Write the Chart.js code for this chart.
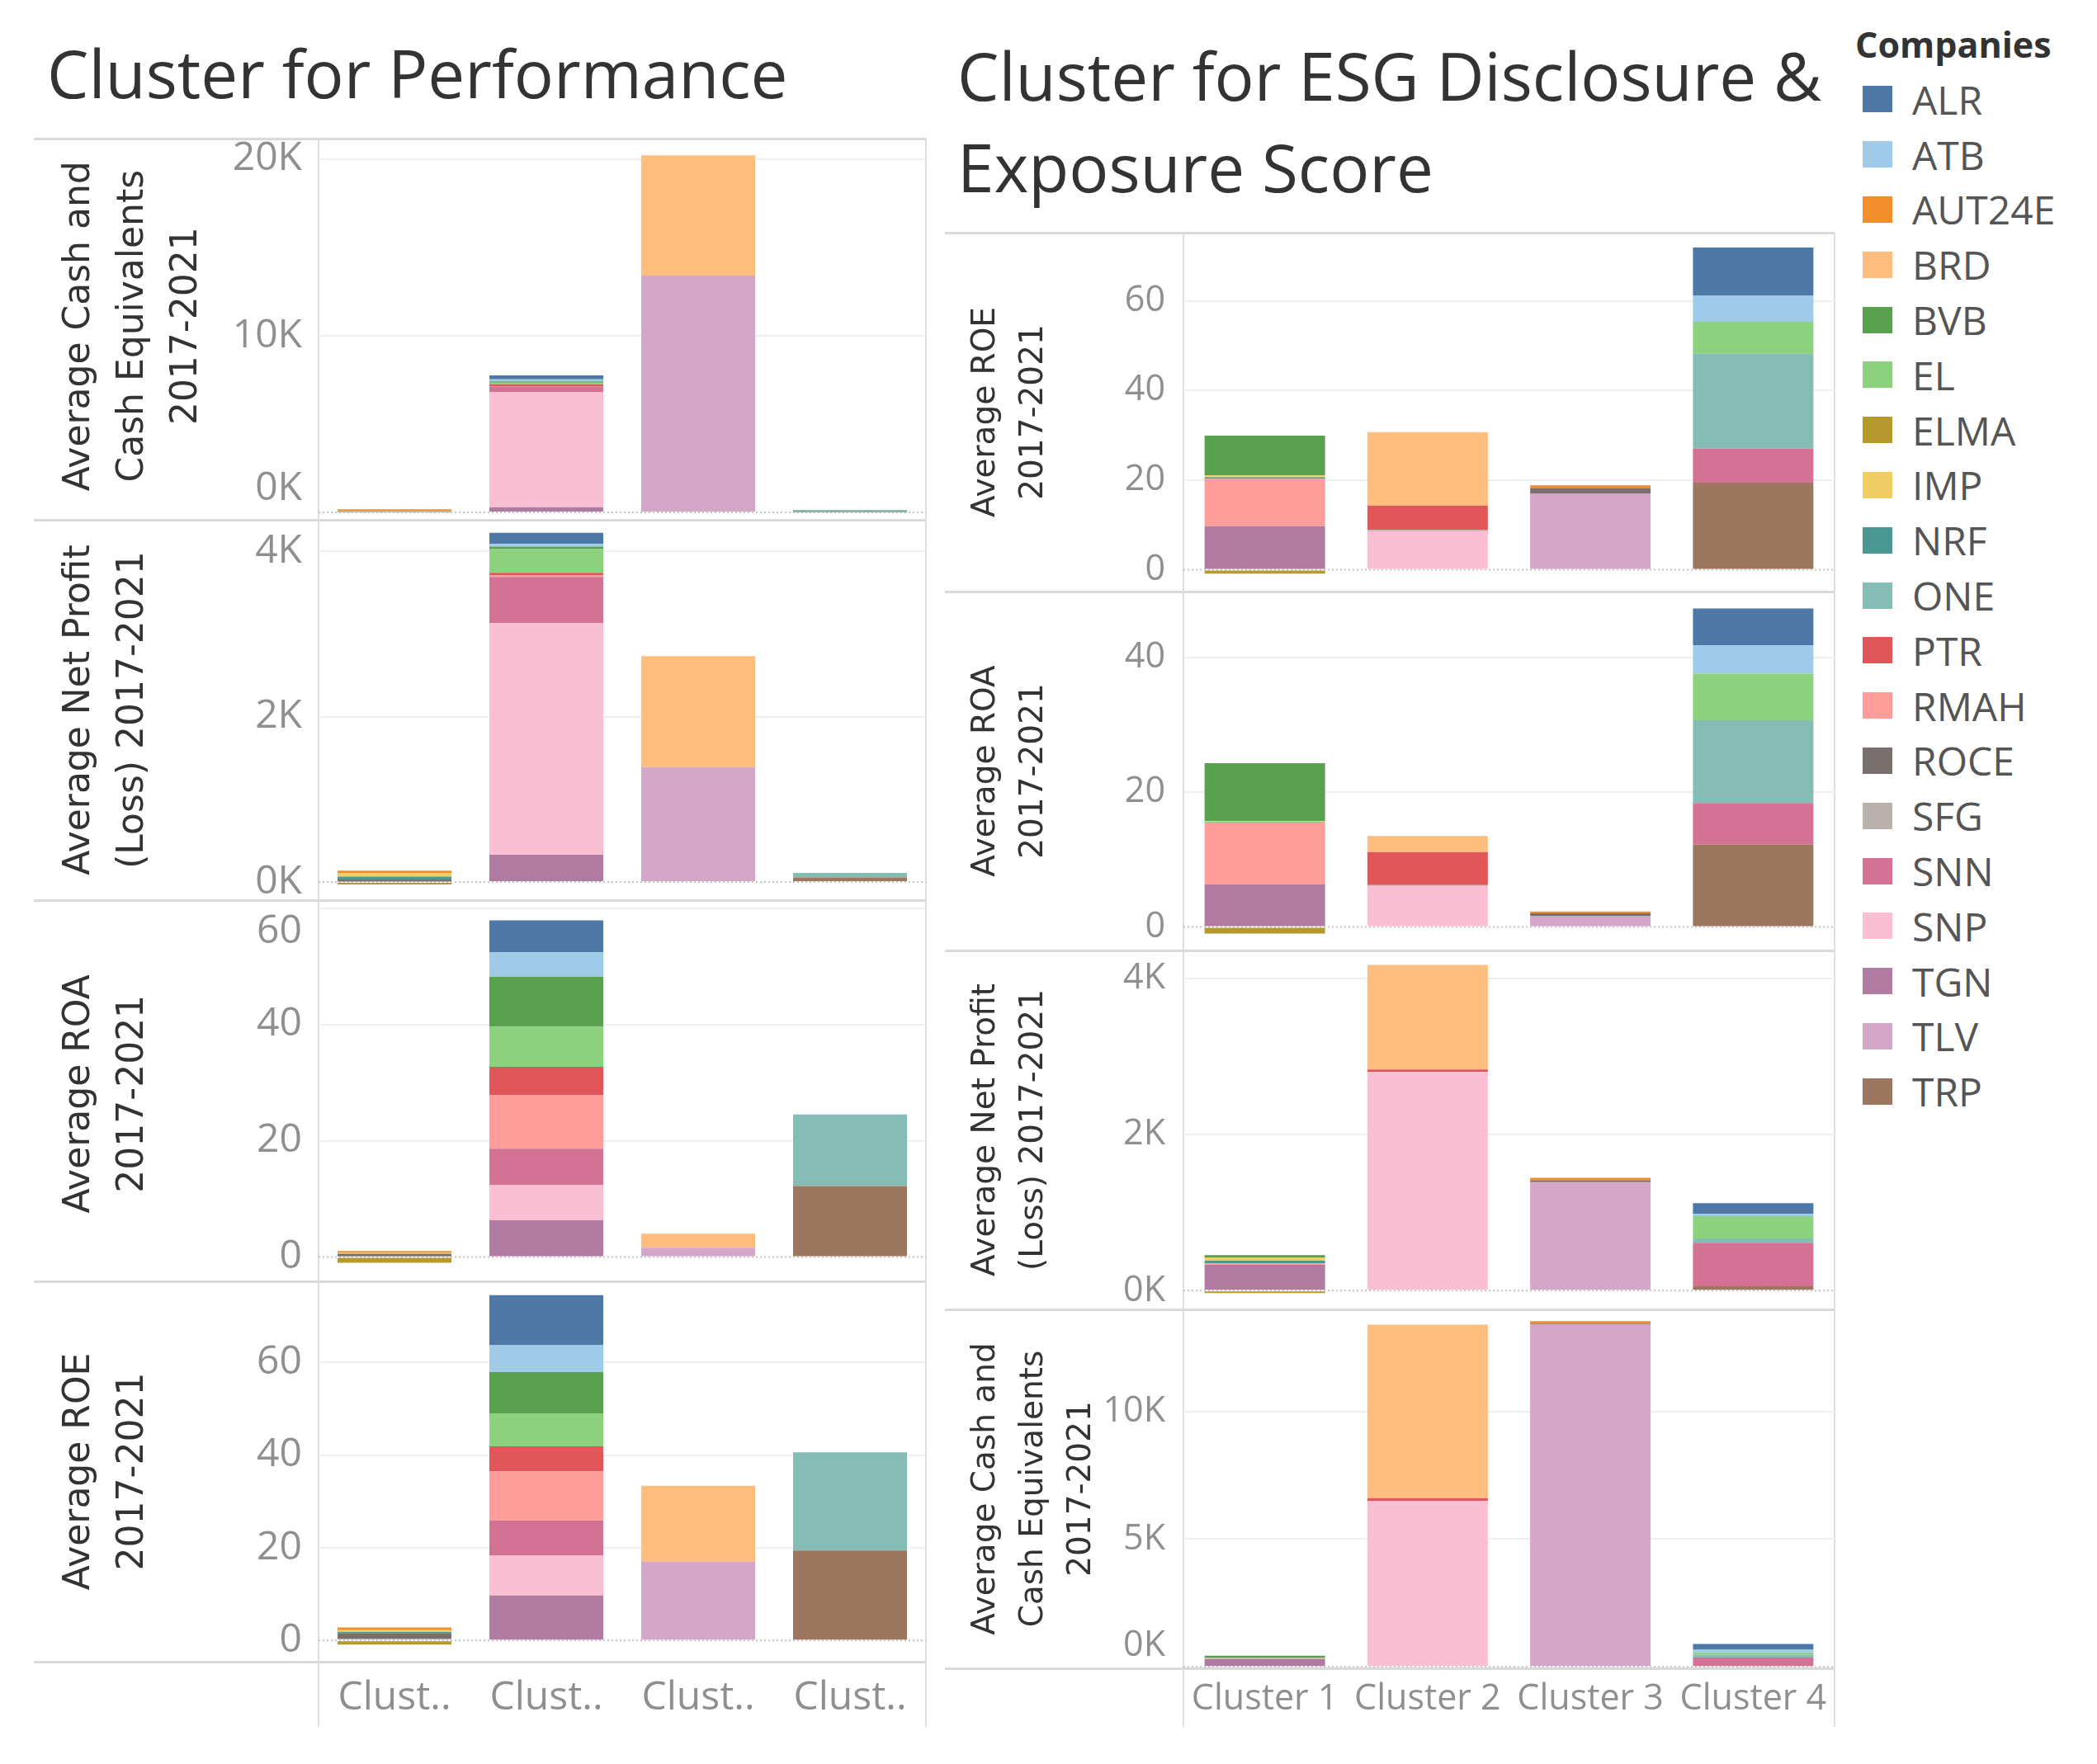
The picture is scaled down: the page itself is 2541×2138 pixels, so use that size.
<!DOCTYPE html>
<html>
<head>
<meta charset="utf-8">
<script src="https://cdn.jsdelivr.net/npm/chart.js@4.4.0/dist/chart.umd.min.js"></script>
<style>
  body { margin: 0; background: #fff; width: 2541px; height: 2138px; position: relative; overflow: hidden; font-family: "Open Sans", sans-serif; }
  canvas { position: absolute; }
  .line { position: absolute; background: #d9d9d9; }
  .title { position: absolute; font-size: 80px; line-height: 111px; color: #333; white-space: nowrap; }
  #legend { position: absolute; left: 2248px; top: 20px; }
  #legend .head { font-weight: bold; font-size: 43px; color: #333; height: 67px; line-height: 67px; }
  #legend .item { height: 66.8px; display: flex; align-items: center; font-size: 48px; color: #555; }
  #legend .sw { width: 36px; height: 32px; margin-left: 9px; margin-right: 24px; }
</style>
</head>
<body>
<div class="title" style="left:57px; top:32px;">Cluster for Performance</div>
<div class="title" style="left:1160px; top:35px;">Cluster for ESG Disclosure &amp;<br>Exposure Score</div>
<div id="legend"><div class="head">Companies</div></div>

<script>
const companies = ["ALR", "ATB", "AUT24E", "BRD", "BVB", "EL", "ELMA", "IMP", "NRF", "ONE",
  "PTR", "RMAH", "ROCE", "SFG", "SNN", "SNP", "TGN", "TLV", "TRP"];
const companyColors = ["#4e79a7", "#a0cbe8", "#f28e2b", "#ffbe7d", "#59a14f", "#8cd17d", "#b6992d",
  "#f1ce63", "#499894", "#86bcb6", "#e15759", "#ff9d9a", "#79706e", "#bab0ac", "#d37295",
  "#fabfd2", "#b07aa1", "#d4a6c8", "#9d7660"];
const clusters = ["Cluster 1", "Cluster 2", "Cluster 3", "Cluster 4"];

// which cluster (0-3) each company falls in, per clustering
const perfCluster = [1, 1, 0, 2, 1, 1, 0, 0, 0, 3, 1, 1, 0, 0, 1, 1, 1, 2, 3];
const esgCluster = [3, 3, 2, 1, 0, 3, 0, 0, 0, 3, 1, 0, 2, 1, 3, 1, 0, 2, 3];

// averages 2017-2021, one value per company
const cashValues = [220, 110, 100, 6800, 80, 90, 5, 15, 15, 110, 100, 20, 40, 5, 330, 6500, 300, 13400, 30];
const profitValues = [135, 32, 32, 1340, 30, 285, -30, 40, 35, 55, 30, 20, 25, 5, 560, 2800, 330, 1390, 55];
const roaValues = [5.5, 4.2, 0.3, 2.4, 8.6, 6.9, -1.0, 0.15, 0.05, 12.3, 4.9, 9.2, 0.4, 0.1, 6.2, 6.1, 6.3, 1.6, 12.2];
const roeValues = [10.8, 5.8, 0.6, 16.4, 8.9, 7.1, -0.9, 0.4, 0.3, 21.2, 5.4, 10.6, 1.2, 0.3, 7.6, 8.6, 9.7, 17.0, 19.4];

// tick values per axis
const perfCashTicks = [0, 10000, 20000];
const esgCashTicks = [0, 5000, 10000];
const profitTicks = [0, 2000, 4000];
const perfRoaTicks = [0, 20, 40, 60];
const esgRoaTicks = [0, 20, 40];
const roeTicks = [0, 20, 40, 60];

const cashTitle = ["Average Cash and", "Cash Equivalents", "2017-2021"];
const profitTitle = ["Average Net Profit", "(Loss) 2017-2021"];
const roaTitle = ["Average ROA", "2017-2021"];
const roeTitle = ["Average ROE", "2017-2021"];

// legend
const legend = document.getElementById("legend");
companies.forEach((name, i) => {
  const item = document.createElement("div");
  item.className = "item";
  item.innerHTML = '<div class="sw" style="background:' + companyColors[i] + '"></div>' + name;
  legend.appendChild(item);
});

function line(x, y, w, h, color) {
  const d = document.createElement("div");
  d.className = "line";
  d.style.left = x + "px"; d.style.top = y + "px";
  d.style.width = w + "px"; d.style.height = h + "px";
  if (color) d.style.background = color;
  document.body.appendChild(d);
}

const zeroLine = {
  id: "zeroLine",
  beforeDatasetsDraw(chart) {
    const { ctx, chartArea, scales } = chart;
    const y = scales.y.getPixelForValue(0);
    ctx.save();
    ctx.strokeStyle = "#c4c4c4";
    ctx.lineWidth = 2;
    ctx.setLineDash([2, 3]);
    ctx.beginPath();
    ctx.moveTo(chartArea.left, y);
    ctx.lineTo(chartArea.right, y);
    ctx.stroke();
    ctx.restore();
  }
};

const leftPanel = { left: 41, plotLeft: 386, plotRight: 1122, tickSize: 48, tickPad: 20,
  titleSize: 44, titleLH: 65, titleX: 97, barPct: 0.75, xPad: 8, xLabel: () => "Clust.." };
const rightPanel = { left: 1145, plotLeft: 1434, plotRight: 2223, tickSize: 43, tickPad: 22,
  titleSize: 39, titleLH: 58, titleX: 1195, barPct: 0.74, xPad: 4, xLabel: (c) => c };

function makeRow(P, o) {
  const pad = 70;
  const xH = 90;
  const w = P.plotRight - P.left + 6;
  const rowH = o.bottom - o.top;
  const h = rowH + pad + (o.showX ? xH : pad);
  const canvas = document.createElement("canvas");
  canvas.width = w; canvas.height = h;
  canvas.style.left = P.left + "px";
  canvas.style.top = (o.top - pad) + "px";
  document.body.appendChild(canvas);

  const datasets = companies.map((name, i) => ({
    label: name,
    data: clusters.map((c, k) => (k === o.clusterOf[i] ? o.values[i] : null)),
    backgroundColor: companyColors[i],
    borderWidth: 0
  })).reverse();

  // keep edge labels inside the pane, as Tableau does
  const tickLabel = (v) => {
    const text = o.k ? (v / 1000) + "K" : String(v);
    const fromBottom = (v - o.min) / (o.max - o.min) * rowH;
    const fromTop = (o.max - v) / (o.max - o.min) * rowH;
    if (fromBottom < 20) return [text, ""];
    if (fromTop < 20) return ["", text];
    return text;
  };

  new Chart(canvas, {
    type: "bar",
    data: { labels: clusters, datasets: datasets },
    options: {
      responsive: false,
      animation: false,
      devicePixelRatio: 1,
      events: [],
      layout: { autoPadding: false, padding: { top: pad, bottom: o.showX ? 0 : pad, left: 0, right: 6 } },
      datasets: { bar: { categoryPercentage: 1, barPercentage: P.barPct } },
      plugins: { legend: { display: false }, tooltip: { enabled: false } },
      scales: {
        x: {
          stacked: true,
          display: !!o.showX,
          grid: { display: false },
          border: { display: false },
          ticks: {
            color: "#8f8f8f",
            font: { family: "Open Sans", size: P.tickSize },
            padding: P.xPad,
            maxRotation: 0,
            autoSkip: false,
            callback: (v, i) => P.xLabel(clusters[i])
          },
          afterFit: (s) => { s.height = o.showX ? xH : 0; }
        },
        y: {
          stacked: true,
          min: o.min,
          max: o.max,
          afterFit: (s) => { s.width = P.plotLeft - P.left; },
          afterBuildTicks: (s) => { s.ticks = o.ticks.map((v) => ({ value: v })); },
          ticks: {
            color: "#8f8f8f",
            font: { family: "Open Sans", size: P.tickSize, lineHeight: 1.2 },
            padding: P.tickPad,
            callback: tickLabel
          },
          grid: {
            drawTicks: false,
            lineWidth: 2,
            color: (c) => (c.tick && c.tick.value === 0 ? "rgba(0,0,0,0)" : "#efefef")
          },
          border: { display: false },
          title: {
            display: true,
            text: o.title,
            color: "#333",
            font: { family: "DejaVu Sans", size: P.titleSize, lineHeight: P.titleLH / P.titleSize },
            padding: { top: P.titleX - P.left - P.titleLH / 2, bottom: 0 }
          }
        }
      }
    },
    plugins: [zeroLine]
  });
}

// panel frame lines
const leftEdges = [168, 630, 1091, 1553, 2014];
const rightEdges = [282, 717, 1152, 1587, 2022];
leftEdges.forEach((y) => line(41, y - 1, 1122 - 41, 3));
rightEdges.forEach((y) => line(1145, y - 1, 2223 - 1145, 3));
line(385, 168, 2, 2093 - 168, "#dedede");
line(1121, 168, 2, 2093 - 168, "#dedede");
line(1433, 282, 2, 2093 - 282, "#dedede");
line(2222, 282, 2, 2093 - 282, "#dedede");

// Cluster for Performance
makeRow(leftPanel, { top: 168, bottom: 630, values: cashValues, clusterOf: perfCluster, title: cashTitle, min: -60, max: 21150, ticks: perfCashTicks, k: true });
makeRow(leftPanel, { top: 630, bottom: 1091, values: profitValues, clusterOf: perfCluster, title: profitTitle, min: -220, max: 4380, ticks: profitTicks, k: true });
makeRow(leftPanel, { top: 1091, bottom: 1553, values: roaValues, clusterOf: perfCluster, title: roaTitle, min: -4.2, max: 60.3, ticks: perfRoaTicks });
makeRow(leftPanel, { top: 1553, bottom: 2014, values: roeValues, clusterOf: perfCluster, title: roeTitle, min: -4.6, max: 77.5, ticks: roeTicks, showX: true });

// Cluster for ESG Disclosure & Exposure Score
makeRow(rightPanel, { top: 282, bottom: 717, values: roeValues, clusterOf: esgCluster, title: roeTitle, min: -4.9, max: 75.2, ticks: roeTicks });
makeRow(rightPanel, { top: 717, bottom: 1152, values: roaValues, clusterOf: esgCluster, title: roaTitle, min: -3.5, max: 49.8, ticks: esgRoaTicks });
makeRow(rightPanel, { top: 1152, bottom: 1587, values: profitValues, clusterOf: esgCluster, title: profitTitle, min: -240, max: 4360, ticks: profitTicks, k: true });
makeRow(rightPanel, { top: 1587, bottom: 2022, values: cashValues, clusterOf: esgCluster, title: cashTitle, min: -60, max: 14000, ticks: esgCashTicks, k: true, showX: true });
</script>
</body>
</html>
